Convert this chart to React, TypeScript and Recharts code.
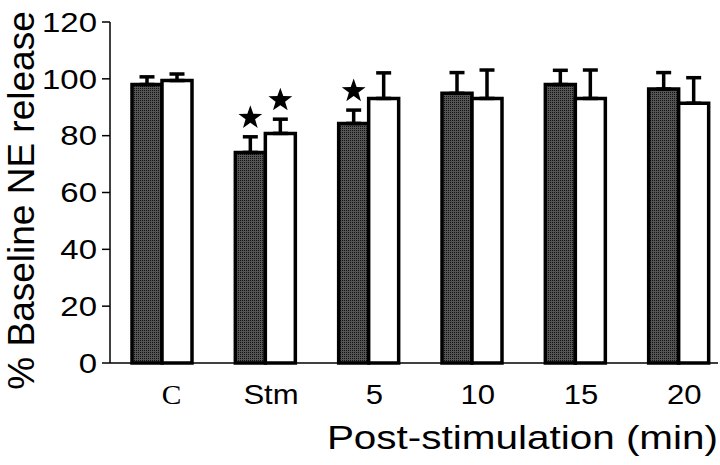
import { BarChart, Bar, XAxis, YAxis, ErrorBar, LabelList, Label } from 'recharts';

// % baseline NE release, two groups (stippled / open), mean + upper SEM
const categories = ['C', 'Stm', '5', '10', '15', '20'];
const darkMean = [98, 74.1, 84.3, 94.9, 98, 96.4];
const darkSem = [2.7, 5.5, 4.7, 7.3, 5, 5.8];
const openMean = [99.4, 80.8, 93.1, 93.1, 93.1, 91.4];
const openSem = [2.3, 5, 9, 10, 10, 9];
const darkSig = [false, true, true, false, false, false];
const openSig = [false, true, false, false, false, false];
const yTicks = [0, 20, 40, 60, 80, 100, 120];

const data = categories.map((name, i) => ({
  name,
  dark: darkMean[i],
  darkErr: [0, darkSem[i]],
  open: openMean[i],
  openErr: [0, openSem[i]],
}));

const SANS = '"Liberation Sans", Arial, Helvetica, sans-serif';
const SERIF = '"Liberation Serif", "Times New Roman", serif';

function starPath(cx: number, cy: number, ro: number, ri: number) {
  let d = '';
  for (let k = 0; k < 10; k++) {
    const r = k % 2 === 0 ? ro : ri;
    const a = -Math.PI / 2 + (k * Math.PI) / 5;
    d += `${k === 0 ? 'M' : 'L'}${cx + r * Math.cos(a)},${cy + r * Math.sin(a)}`;
  }
  return d + 'Z';
}

// star sits a fixed distance (in data units) above the error bar tip
const starAbove = (means: number[], sems: number[], sig: boolean[]) => (p: any) => {
  const i = p.index ?? means.indexOf(Number(p.value));
  if (i == null || i < 0 || !sig[i]) return null;
  const perUnit = Number(p.height) / means[i];
  const cx = Number(p.x) + Number(p.width) / 2;
  const cy = Number(p.y) - (sems[i] + 6.7) * perUnit;
  return <path key={`star-${i}`} d={starPath(cx, cy, 12.5, 5)} fill="#000" />;
};

const YTick = ({ x, y, payload }: any) => (
  <text transform={`translate(${x},${y}) scale(1.22,1)`} textAnchor="end" dy="0.36em"
    fontSize={27} fontFamily={SANS} fill="#000">
    {payload.value}
  </text>
);

const XTick = ({ x, y, payload }: any) => {
  const serif = payload.value === 'C';
  return (
    <text transform={`translate(${x + (serif ? 10 : 6)},${y + 41}) scale(${serif ? 1.05 : 1.15},1)`}
      textAnchor="middle" fontSize={serif ? 28 : 27} fontFamily={serif ? SERIF : SANS} fill="#000">
      {payload.value}
    </text>
  );
};

const YTitle = ({ viewBox }: any) => {
  const vb = viewBox ?? { x: 0, y: 22, width: 110, height: 341 };
  return (
    <text transform={`translate(${vb.x + 34},${vb.y + vb.height / 2 + 8}) rotate(-90)`}
      textAnchor="middle" fontSize={37} fontFamily={SANS} fill="#000">
      % Baseline NE release
    </text>
  );
};

const XTitle = ({ viewBox }: any) => {
  const vb = viewBox ?? { x: 110, y: 363, width: 608, height: 102 };
  return (
    <text transform={`translate(${vb.x + vb.width},${vb.y + 86}) scale(1.19,1)`}
      textAnchor="end" fontSize={34} fontFamily={SANS} fill="#000">
      Post-stimulation (min)
    </text>
  );
};

export default function App() {
  return (
    <div style={{ position: 'absolute', left: 0, top: 0, width: 720, height: 465, background: '#fff' }}>
      <svg width={0} height={0} style={{ position: 'absolute' }}>
        <defs>
          <pattern id="stipple" width={2} height={2} patternUnits="userSpaceOnUse">
            <rect width={2} height={2} fill="#555" />
            <rect width={1} height={1} fill="#111" />
          </pattern>
        </defs>
      </svg>
      <BarChart width={720} height={465} data={data}
        margin={{ top: 22, right: 2, bottom: 0, left: 0 }}
        barGap={0} barSize={30}>
        <XAxis dataKey="name" height={102} padding={{ left: 0, right: -12 }}
          tickLine={false} tickSize={0} tickMargin={0} tick={<XTick />}
          axisLine={{ stroke: '#000', strokeWidth: 1.5 }} interval={0}>
          <Label content={<XTitle />} />
        </XAxis>
        <YAxis width={110} domain={[0, 120]} ticks={yTicks} interval={0}
          tickSize={8} tickMargin={5} tick={<YTick />}
          tickLine={{ stroke: '#000', strokeWidth: 1.5 }}
          axisLine={{ stroke: '#000', strokeWidth: 1.5 }}>
          <Label content={<YTitle />} />
        </YAxis>
        <Bar dataKey="dark" fill="url(#stipple)" stroke="#000" strokeWidth={3.5} isAnimationActive={false}>
          <ErrorBar dataKey="darkErr" direction="y" width={7.5} stroke="#000" strokeWidth={3.5} isAnimationActive={false} />
          <LabelList dataKey="dark" content={starAbove(darkMean, darkSem, darkSig)} />
        </Bar>
        <Bar dataKey="open" fill="#fff" stroke="#000" strokeWidth={3.5} isAnimationActive={false}>
          <ErrorBar dataKey="openErr" direction="y" width={7.5} stroke="#000" strokeWidth={3.5} isAnimationActive={false} />
          <LabelList dataKey="open" content={starAbove(openMean, openSem, openSig)} />
        </Bar>
      </BarChart>
    </div>
  );
}
